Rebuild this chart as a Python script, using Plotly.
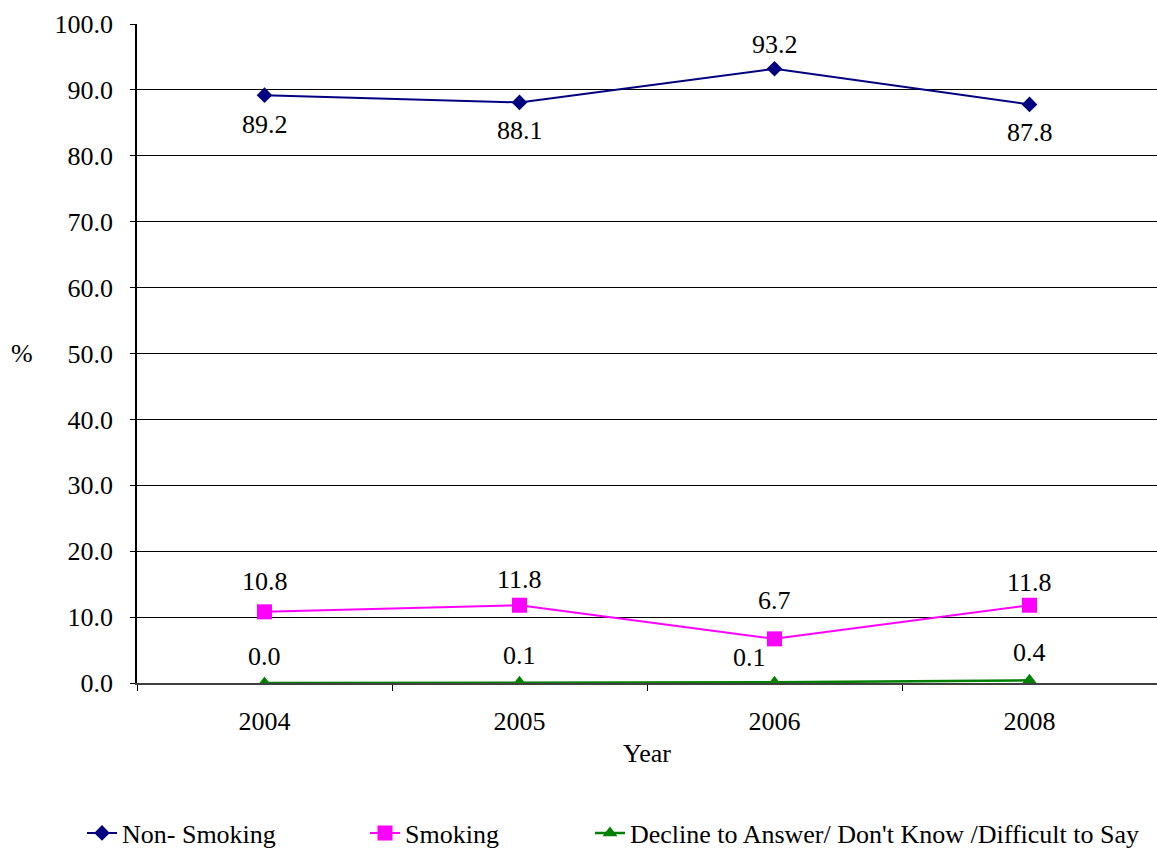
import plotly.graph_objects as go

years = ["2004", "2005", "2006", "2008"]
non_smoking = [89.2, 88.1, 93.2, 87.8]
smoking = [10.8, 11.8, 6.7, 11.8]
decline = [0.0, 0.1, 0.1, 0.4]
y_ticks = [0, 10, 20, 30, 40, 50, 60, 70, 80, 90, 100]

# label placement offsets (px)
ns_shift = [-29, -28, 24, -28]
sm_shift = [30, 26, 38, 23]
dc_shift = [27, 27, 25, 28]
dc_xshift = [0, 0, -25, 0]

FONT = "Liberation Serif"
FS = 26
W, H = 1157, 852
PL, PT, PB = 137, 24, 683  # plot area pixel bounds

fig = go.Figure()
fig.add_trace(go.Scatter(x=years, y=non_smoking, mode="lines+markers", name="Non- Smoking",
                         line=dict(color="#000080", width=2), legendwidth=238,
                         marker=dict(symbol="diamond", size=12, color="#000080")))
fig.add_trace(go.Scatter(x=years, y=smoking, mode="lines+markers", name="Smoking",
                         line=dict(color="#FF00FF", width=2), legendwidth=180,
                         marker=dict(symbol="square", size=15, color="#FF00FF")))
fig.add_trace(go.Scatter(x=years, y=decline, mode="lines+markers",
                         name="Decline to Answer/ Don't Know /Difficult to Say",
                         line=dict(color="#008000", width=2.5),
                         marker=dict(symbol="triangle-up", size=13, color="#008000")))

for series, shifts, xs in [(non_smoking, ns_shift, [0] * 4), (smoking, sm_shift, [0] * 4),
                           (decline, dc_shift, dc_xshift)]:
    for i, (yv, s, dx) in enumerate(zip(series, shifts, xs)):
        fig.add_annotation(x=i, y=yv, xref="x", yref="y", text=f"{yv:.1f}", showarrow=False,
                           yshift=s, xshift=dx, font=dict(family=FONT, size=FS, color="black"))

fig.add_annotation(x=(22 - PL) / (W - PL), y=(PB - 353) / (PB - PT), xref="paper", yref="paper",
                   xanchor="center", yanchor="middle",
                   text="%", showarrow=False, font=dict(family=FONT, size=FS, color="black"))

fig.update_layout(
    width=W, height=H,
    margin=dict(l=PL, r=0, t=PT, b=H - PB, pad=0, autoexpand=False),
    plot_bgcolor="white", paper_bgcolor="white",
    font=dict(family=FONT, size=FS, color="black"),
    showlegend=True,
    legend=dict(orientation="h", x=(82 - PL) / (W - PL), xanchor="left",
                y=(PB - 833) / (PB - PT), yanchor="middle",
                font=dict(family=FONT, size=FS), itemwidth=30, tracegroupgap=0),
    xaxis=dict(type="category", range=[-0.5, 3.5], tickson="boundaries", ticks="outside",
               ticklen=6, tickcolor="black", showgrid=False, showline=True, linecolor="#404040",
               linewidth=1.5, title=dict(text="Year", standoff=9, font=dict(size=FS)),
               tickfont=dict(size=FS), ticklabelstandoff=14, zeroline=False, automargin=False),
    yaxis=dict(range=[0, 100], tickvals=y_ticks, tickformat=".1f", ticks="outside", ticklen=5,
               tickcolor="black", showgrid=True, gridcolor="black", gridwidth=1,
               showline=True, linecolor="black", linewidth=1.5, zeroline=False,
               tickfont=dict(size=FS), ticklabelstandoff=12, automargin=False),
)

fig.write_html(
    "out.html",
    config={"displayModeBar": False},
    post_script=(
        "document.body.style.margin='0';document.body.style.padding='0';"
        "document.body.style.overflow='hidden';"
    ),
)
